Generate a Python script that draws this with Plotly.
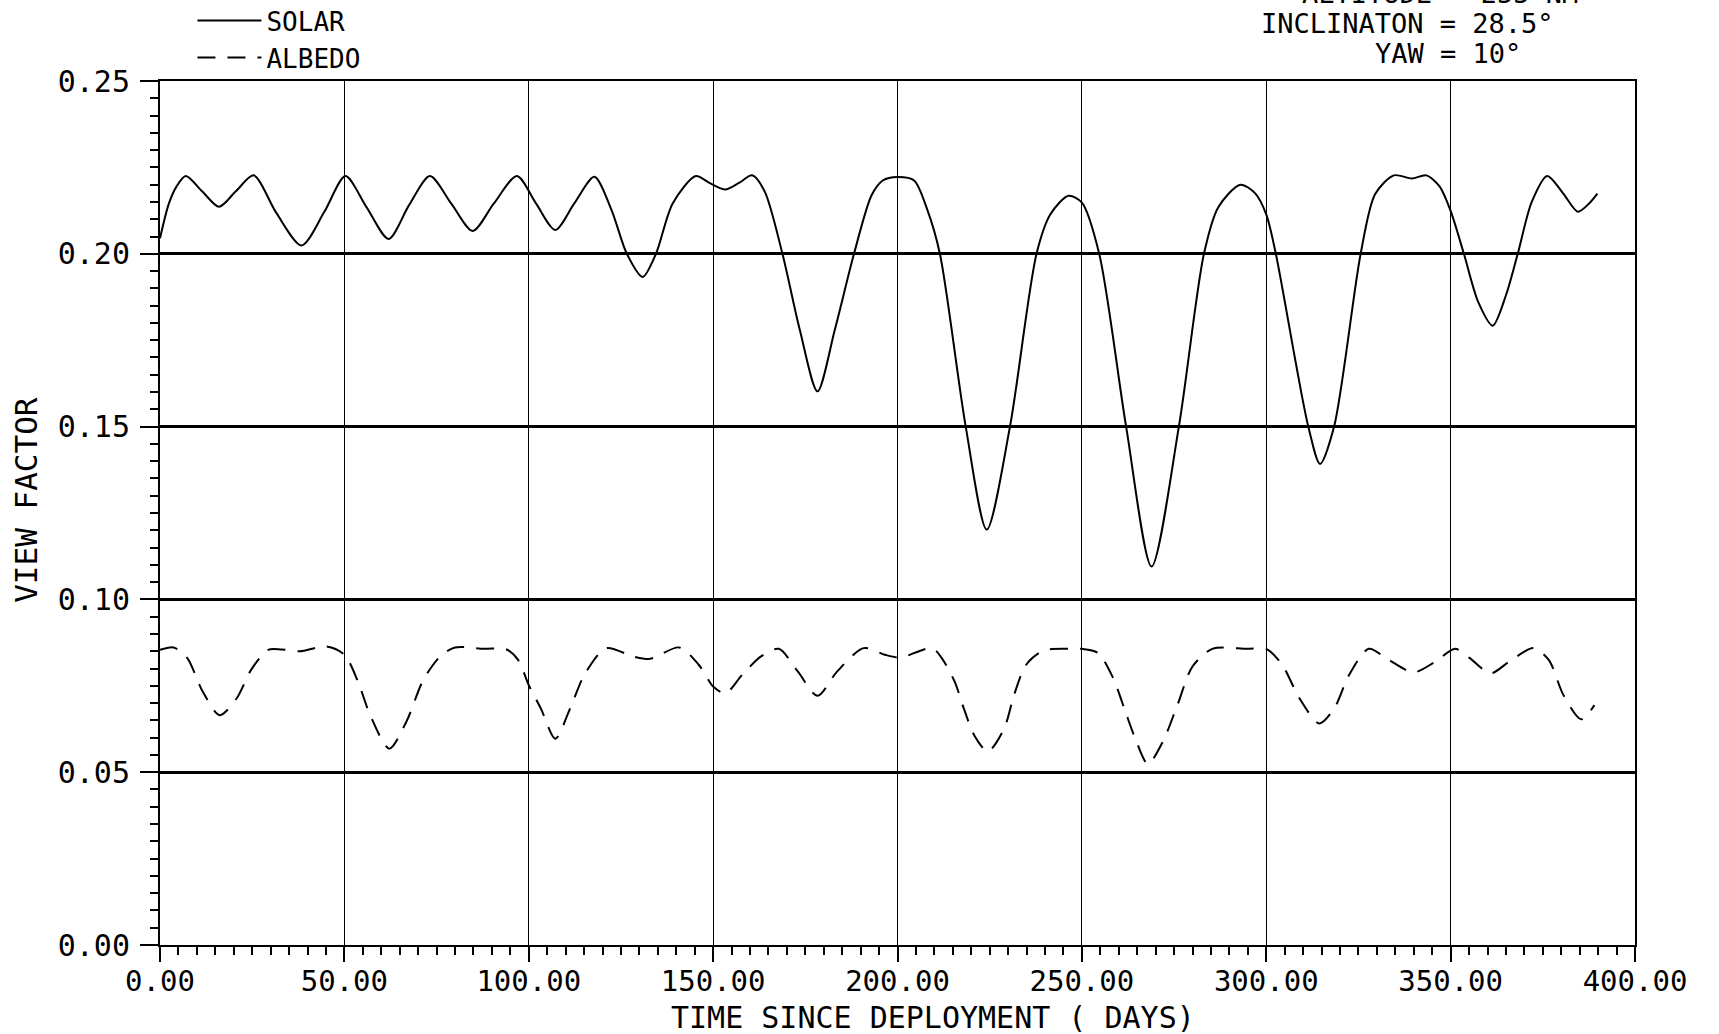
import plotly.graph_objects as go

# ---- data ----
solar_days = [0, 2.4, 4.5, 7.0, 11.5, 16.0, 20.5, 25.4, 31.5, 38.4, 44.5, 50.3, 56, 62.0, 67.5,
              73.2, 79, 84.8, 90.5, 96.8, 102, 107.2, 112.3, 117.8, 122.5, 126.6, 130.9, 134.5,
              139, 145.3, 149, 153.3, 157, 160.6, 164, 168.8, 173.5, 178.3, 183, 188.2, 193,
              196, 200, 204.5, 208, 211.5, 218.5, 224.2, 230.5, 237.7, 241.5, 246.4, 250,
              254.7, 262, 268.9, 276.3, 283.1, 287, 293, 297, 300, 302.6, 311.4, 314.6, 318.4,
              325.6, 329.5, 334.6, 339.5, 343.4, 347, 350, 353.6, 357.5, 361.4, 365, 368.2,
              372, 376.2, 380.5, 384.5, 387.5, 389.8]
solar_vf = [0.2045, 0.2145, 0.2195, 0.2225, 0.218, 0.2136, 0.218, 0.2227, 0.2119, 0.2024, 0.212,
            0.2225, 0.2135, 0.2043, 0.214, 0.2225, 0.2145, 0.2066, 0.2145, 0.2225, 0.2145,
            0.2069, 0.2145, 0.2223, 0.2125, 0.200, 0.1933, 0.200, 0.2145, 0.2225, 0.2205,
            0.2186, 0.2205, 0.2227, 0.218, 0.200, 0.178, 0.1602, 0.178, 0.200, 0.217, 0.2212,
            0.2222, 0.2212, 0.213, 0.200, 0.150, 0.1202, 0.150, 0.200, 0.2115, 0.2168, 0.2148,
            0.200, 0.150, 0.1095, 0.150, 0.200, 0.2135, 0.2200, 0.2175, 0.2114, 0.200, 0.150,
            0.1392, 0.150, 0.200, 0.2172, 0.2227, 0.2218, 0.2227, 0.2195, 0.2124, 0.200, 0.186,
            0.1792, 0.188, 0.200, 0.215, 0.2225, 0.2175, 0.2122, 0.2145, 0.2174]

albedo_days = [0, 3.7, 7.4, 11.6, 16.2, 20.8, 24.7, 29.3, 33, 37.9, 45.1, 50, 53.7, 57, 62.2,
               66.8, 71.4, 76, 80, 87.9, 93.8, 97.1, 100, 103.3, 107.2, 111.2, 115.1, 121,
               128.3, 132.9, 140.8, 146.1, 150, 153.3, 157.9, 163, 167.8, 173, 178.3, 183.6,
               190.8, 196.6, 200, 202, 209.4, 212, 215.5, 218, 220.8, 224.5, 228.9, 231.6,
               234.9, 239.6, 246.4, 250, 254.4, 258.5, 261.8, 264.5, 267.9, 271.9, 275.9, 280,
               285.4, 294.8, 300, 304.3, 309, 314.4, 318.4, 322.5, 327.8, 333.2, 339.9, 345.9,
               351.2, 355.2, 360.8, 365.9, 372.4, 376.6, 380.6, 385.4, 389]
albedo_vf = [0.0854, 0.0861, 0.083, 0.0733, 0.0665, 0.0714, 0.0796, 0.0854, 0.0855, 0.085,
             0.0864, 0.084, 0.0762, 0.0665, 0.0568, 0.0646, 0.0767, 0.0835, 0.0861, 0.0857,
             0.0856, 0.0825, 0.0752, 0.0684, 0.0597, 0.0684, 0.0782, 0.0859, 0.0835, 0.0828,
             0.0861, 0.0811, 0.0748, 0.0728, 0.0782, 0.0835, 0.0857, 0.0791, 0.0721, 0.0791,
             0.0859, 0.084, 0.0832, 0.0835, 0.0859, 0.083, 0.0762, 0.0684, 0.0607, 0.056,
             0.0626, 0.0723, 0.0811, 0.0852, 0.0857, 0.0857, 0.0845, 0.0772, 0.0675, 0.0597,
             0.0524, 0.0587, 0.0694, 0.0806, 0.0857, 0.0857, 0.0857, 0.0811, 0.0714, 0.0641,
             0.0684, 0.0782, 0.0857, 0.0825, 0.0789, 0.082, 0.0857, 0.083, 0.0786, 0.082,
             0.0859, 0.0825, 0.0723, 0.0653, 0.0694]

x_ticks = [0, 50, 100, 150, 200, 250, 300, 350, 400]
y_ticks = [0.00, 0.05, 0.10, 0.15, 0.20, 0.25]

info_lines = ["ALTITUDE = 255 NM", "INCLINATON = 28.5°", "YAW = 10°"]

FONT = "DejaVu Sans Mono"

fig = go.Figure()
fig.add_trace(go.Scatter(x=solar_days, y=solar_vf, mode="lines", name="SOLAR",
                         line=dict(color="black", width=2, shape="spline", smoothing=0.8)))
fig.add_trace(go.Scatter(x=albedo_days, y=albedo_vf, mode="lines", name="ALBEDO",
                         line=dict(color="black", width=2, dash="18px,12px",
                                   shape="spline", smoothing=0.8)))

fig.update_layout(
    width=1719, height=1034,
    margin=dict(l=160, r=84, t=81, b=89, autoexpand=False),
    paper_bgcolor="white", plot_bgcolor="white",
    font=dict(family=FONT, color="black", size=29),
    showlegend=True,
    legend=dict(x=0.022, y=1.097, xanchor="left", yanchor="top",
                font=dict(family=FONT, size=26), itemwidth=64,
                bgcolor="rgba(0,0,0,0)", tracegroupgap=0),
    xaxis=dict(range=[0, 400], tickvals=x_ticks, tickformat=".2f",
               ticks="outside", ticklen=15, tickwidth=2, tickcolor="black",
               showline=True, linecolor="black", linewidth=2, mirror=True,
               showgrid=True, gridcolor="black", gridwidth=1.3,
               zeroline=False, ticklabelstandoff=-6,
               minor=dict(dtick=5, ticks="outside", ticklen=8, tickwidth=1.5,
                          tickcolor="black", showgrid=False),
               tickfont=dict(family=FONT, size=29)),
    yaxis=dict(range=[0, 0.25], tickvals=y_ticks, tickformat=".2f",
               ticks="outside", ticklen=18, tickwidth=2, tickcolor="black",
               showline=True, linecolor="black", linewidth=2, mirror=True,
               showgrid=True, gridcolor="black", gridwidth=2.5,
               zeroline=False, ticklabelstandoff=4,
               minor=dict(dtick=0.005, ticks="outside", ticklen=8, tickwidth=1.5,
                          tickcolor="black", showgrid=False),
               tickfont=dict(family=FONT, size=30)),
)

fig.add_annotation(text="TIME SINCE DEPLOYMENT ( DAYS)", xref="paper", yref="paper",
                   x=0.524, y=-0.084, xanchor="center", yanchor="middle",
                   showarrow=False, font=dict(family=FONT, size=30))
fig.add_annotation(text="VIEW FACTOR", xref="paper", yref="paper",
                   x=-0.091, y=0.515, xanchor="center", yanchor="middle", textangle=-90,
                   showarrow=False, font=dict(family=FONT, size=31))

# parameter block, top right (first line partly above the page edge, as in the reference)
info_pos = [(0.773, 1.1007), (0.745, 1.066), (0.8224, 1.0324)]
for txt, (px, py) in zip(info_lines, info_pos):
    fig.add_annotation(text=txt, xref="paper", yref="paper", x=px, y=py,
                       xanchor="left", yanchor="middle", showarrow=False,
                       font=dict(family=FONT, size=27))

fig.write_html("out.html", config={"displayModeBar": False},
               post_script="document.body.style.margin='0';document.body.style.overflow='hidden';")
